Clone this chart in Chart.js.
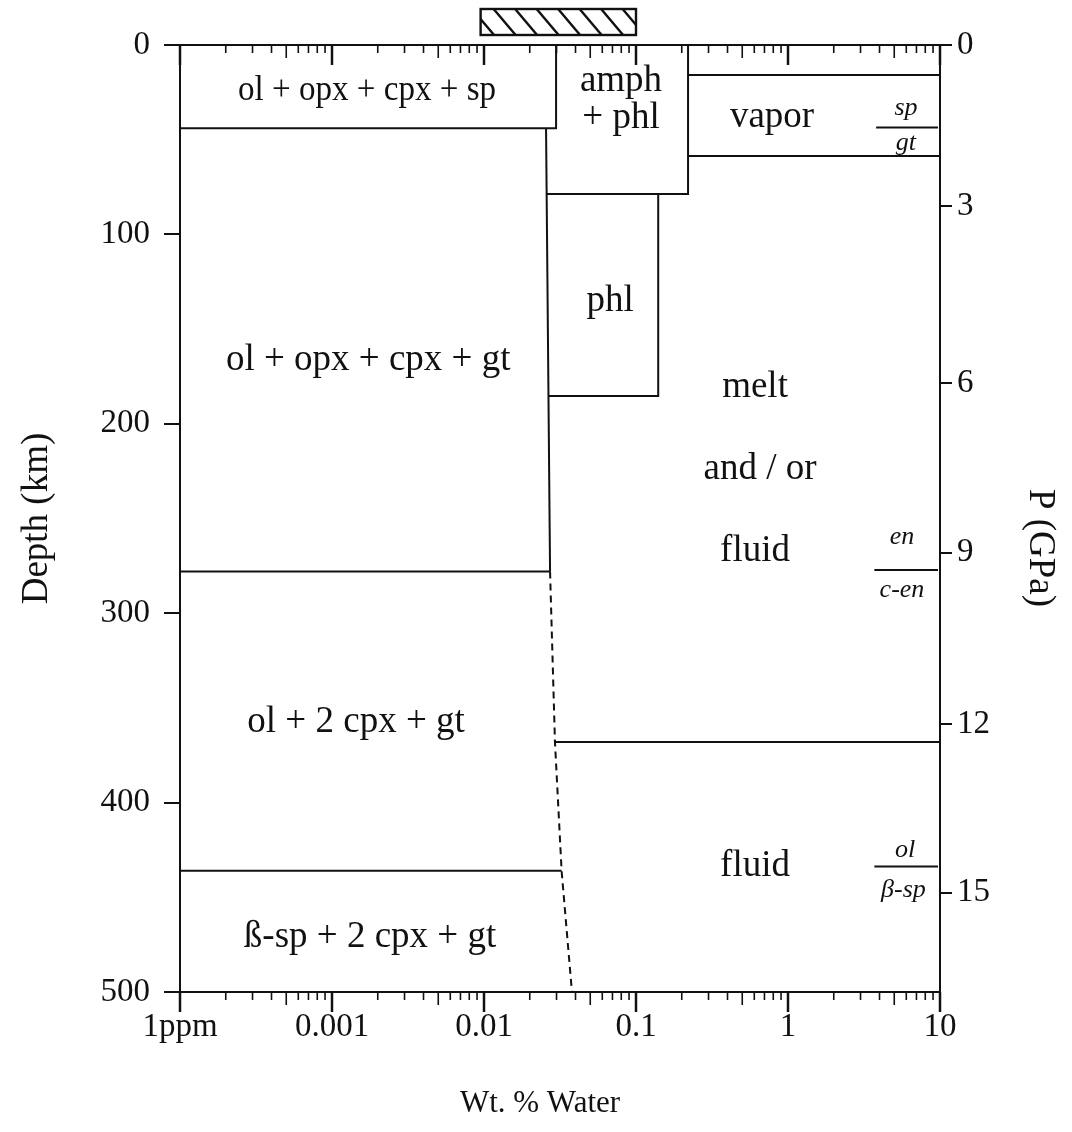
<!DOCTYPE html>
<html lang="en">
<head>
<meta charset="UTF-8">
<title>Wt. % Water vs Depth</title>
<script src="https://cdn.jsdelivr.net/npm/chart.js"></script>
<style>
  body { margin: 0; background: #fff; }
  canvas { display: block; }
</style>
</head>
<body>
<canvas id="diagrama" width="1072" height="1132"></canvas>
<script>
// axis ticks
const waterTicks = [0.0001, 0.001, 0.01, 0.1, 1, 10];
const waterTickLabels = ['1ppm', '0.001', '0.01', '0.1', '1', '10'];
const depthTicks = [0, 100, 200, 300, 400, 500];
const pressureTicks = [0, 3, 6, 9, 12, 15];
const pressureDepths = [0, 85, 178.6, 268, 358.5, 447.6];

// phase boundaries as [wt.% water, depth in km]
const spinelField = [[0.0001, 44], [0.0298, 44], [0.0298, 0]];
const hydrousLimit = [[0.0256, 44], [0.0272, 278]];
const hydrousLimitDeep = [[0.0272, 278], [0.0293, 368], [0.0324, 436], [0.0379, 500]];
const garnetBase = [[0.0001, 278], [0.0272, 278]];
const olivineBase = [[0.0001, 436], [0.0324, 436]];
const amphField = [[0.0256, 78.7], [0.22, 78.7], [0.22, 0]];
const phlField = [[0.0266, 185.3], [0.14, 185.3], [0.14, 78.7]];
const vaporTop = [[0.22, 15.8], [10, 15.8]];
const vaporBase = [[0.22, 58.6], [10, 58.6]];
const fluidTop = [[0.0293, 368], [10, 368]];

// short transition bars at the right edge
const spGtBar = [[3.8, 43.5], [9.7, 43.5]];
const enBar = [[3.7, 277.2], [9.7, 277.2]];
const olBar = [[3.7, 433.8], [9.7, 433.8]];

// hatched band above the plot (water range)
const hatchRange = [0.0095, 0.1];

// field names and where they sit
const fieldNames = ['ol + opx + cpx + sp', 'amph', '+ phl', 'vapor', 'phl', 'ol + opx + cpx + gt',
  'melt', 'and / or', 'fluid', 'ol + 2 cpx + gt', 'fluid', 'ß-sp + 2 cpx + gt'];
const fieldWater = [0.0017, 0.0797, 0.0797, 0.785, 0.0675, 0.00173, 0.607, 0.654, 0.607, 0.00144, 0.607, 0.00178];
const fieldDepth = [24, 19, 38.5, 38, 135.5, 166.3, 180.6, 223.9, 267.2, 357.5, 433.5, 471];

const phaseNames = ['sp', 'gt', 'en', 'c-en', 'ol', 'β-sp'];
const phaseWater = [5.97, 5.97, 5.62, 5.62, 5.89, 5.75];
const phaseDepth = [33.3, 51.7, 259.8, 287.8, 425, 446];

const INK = '#111';
const SERIF = "'Liberation Serif', 'Times New Roman', serif";

function pontos(lista) {
    return lista.map(p => ({ x: p[0], y: p[1] }));
}

function linha(lista, tracejada) {
    return {
        data: pontos(lista),
        showLine: true,
        borderColor: INK,
        borderWidth: 2,
        borderDash: tracejada ? [7, 5] : [],
        pointRadius: 0,
        fill: false
    };
}

const datasets = [
    linha(spinelField), linha(hydrousLimit), linha(hydrousLimitDeep, true),
    linha(garnetBase), linha(olivineBase), linha(amphField), linha(phlField),
    linha(vaporTop), linha(vaporBase), linha(fluidTop),
    linha(spGtBar), linha(enBar), linha(olBar)
];

function traco(ctx, x1, y1, x2, y2) {
    ctx.beginPath();
    ctx.moveTo(x1, y1);
    ctx.lineTo(x2, y2);
    ctx.stroke();
}

// tick marks, top frame, hatched band and text
const extras = {
    id: 'extras',
    afterDraw(chart) {
        const { ctx, chartArea: a, scales: { x, y } } = chart;
        ctx.save();
        ctx.strokeStyle = INK;
        ctx.fillStyle = INK;

        // top frame line
        ctx.lineWidth = 2;
        traco(ctx, a.left - 16, a.top, a.right + 12, a.top);

        // log ticks: bottom pointing out, top pointing in
        for (let e = -4; e <= 1; e++) {
            for (let m = 1; m <= 9; m++) {
                const v = m * Math.pow(10, e);
                if (v > 10.0001) break;
                const px = x.getPixelForValue(v);
                const len = m === 1 ? 20 : (m === 5 ? 13 : 8);
                ctx.lineWidth = m === 1 ? 2.5 : 1.6;
                traco(ctx, px, a.bottom, px, a.bottom + len);
                traco(ctx, px, a.top, px, a.top + len);
            }
        }

        // hatched band
        const hx1 = x.getPixelForValue(hatchRange[0]);
        const hx2 = x.getPixelForValue(hatchRange[1]);
        const hy1 = 9, hy2 = 35;
        ctx.lineWidth = 2.4;
        ctx.strokeRect(hx1, hy1, hx2 - hx1, hy2 - hy1);
        ctx.save();
        ctx.beginPath();
        ctx.rect(hx1, hy1, hx2 - hx1, hy2 - hy1);
        ctx.clip();
        for (let sx = hx1 - 30; sx < hx2 + 30; sx += 21.5) {
            traco(ctx, sx, hy1, sx + 22, hy2);
        }
        ctx.restore();

        // field names
        ctx.textAlign = 'center';
        ctx.textBaseline = 'middle';
        fieldNames.forEach((nome, i) => {
            const px = x.getPixelForValue(fieldWater[i]);
            const py = y.getPixelForValue(fieldDepth[i]);
            if (i === 0) {
                // the top box is narrow, squeeze this one a little
                ctx.font = '35px ' + SERIF;
                ctx.fillText(nome, px, py, 258);
            } else {
                ctx.font = '37px ' + SERIF;
                ctx.fillText(nome, px, py);
            }
        });
        ctx.font = 'italic 26px ' + SERIF;
        phaseNames.forEach((nome, i) => {
            ctx.fillText(nome, x.getPixelForValue(phaseWater[i]), y.getPixelForValue(phaseDepth[i]));
        });

        // x axis title
        ctx.font = '31px ' + SERIF;
        ctx.fillText('Wt. % Water', 540, 1104);

        // right axis title, reading downwards
        ctx.save();
        ctx.translate(1040, 548);
        ctx.rotate(Math.PI / 2);
        ctx.font = '37px ' + SERIF;
        ctx.fillText('P (GPa)', 0, 0);
        ctx.restore();

        ctx.restore();
    }
};

new Chart(document.getElementById('diagrama'), {
    type: 'scatter',
    data: { datasets: datasets },
    plugins: [extras],
    options: {
        responsive: false,
        animation: false,
        devicePixelRatio: 1,
        layout: { padding: { top: 45, left: 0, right: 0, bottom: 0 } },
        plugins: { legend: { display: false }, tooltip: { enabled: false } },
        scales: {
            x: {
                type: 'logarithmic',
                position: 'bottom',
                min: 0.0001,
                max: 10,
                afterBuildTicks: s => { s.ticks = waterTicks.map(v => ({ value: v })); },
                afterFit: s => { s.height = 140; },
                grid: { display: false, drawTicks: false },
                border: { display: true, color: INK, width: 2 },
                ticks: {
                    autoSkip: false,
                    maxRotation: 0,
                    padding: 16,
                    color: INK,
                    font: { family: SERIF, size: 33 },
                    callback: v => waterTickLabels[waterTicks.findIndex(t => Math.abs(t - v) < t * 1e-6)]
                }
            },
            y: {
                type: 'linear',
                position: 'left',
                reverse: true,
                min: 0,
                max: 500,
                afterBuildTicks: s => { s.ticks = depthTicks.map(v => ({ value: v })); },
                afterFit: s => { s.width = 180; },
                grid: { drawOnChartArea: false, drawTicks: true, tickLength: 16, color: INK, lineWidth: 2 },
                border: { display: true, color: INK, width: 2 },
                ticks: { padding: 14, color: INK, font: { family: SERIF, size: 33 } },
                title: { display: true, text: 'Depth (km)', color: INK, font: { family: SERIF, size: 37 }, padding: { top: 15 } }
            },
            y2: {
                type: 'linear',
                position: 'right',
                reverse: true,
                min: 0,
                max: 500,
                afterBuildTicks: s => { s.ticks = pressureDepths.map(v => ({ value: v })); },
                afterFit: s => { s.width = 132; },
                grid: { drawOnChartArea: false, drawTicks: true, tickLength: 12, color: INK, lineWidth: 2 },
                border: { display: true, color: INK, width: 2 },
                ticks: {
                    padding: 5,
                    color: INK,
                    font: { family: SERIF, size: 33 },
                    callback: v => pressureTicks[pressureDepths.indexOf(v)]
                }
            }
        }
    }
});
</script>
</body>
</html>
